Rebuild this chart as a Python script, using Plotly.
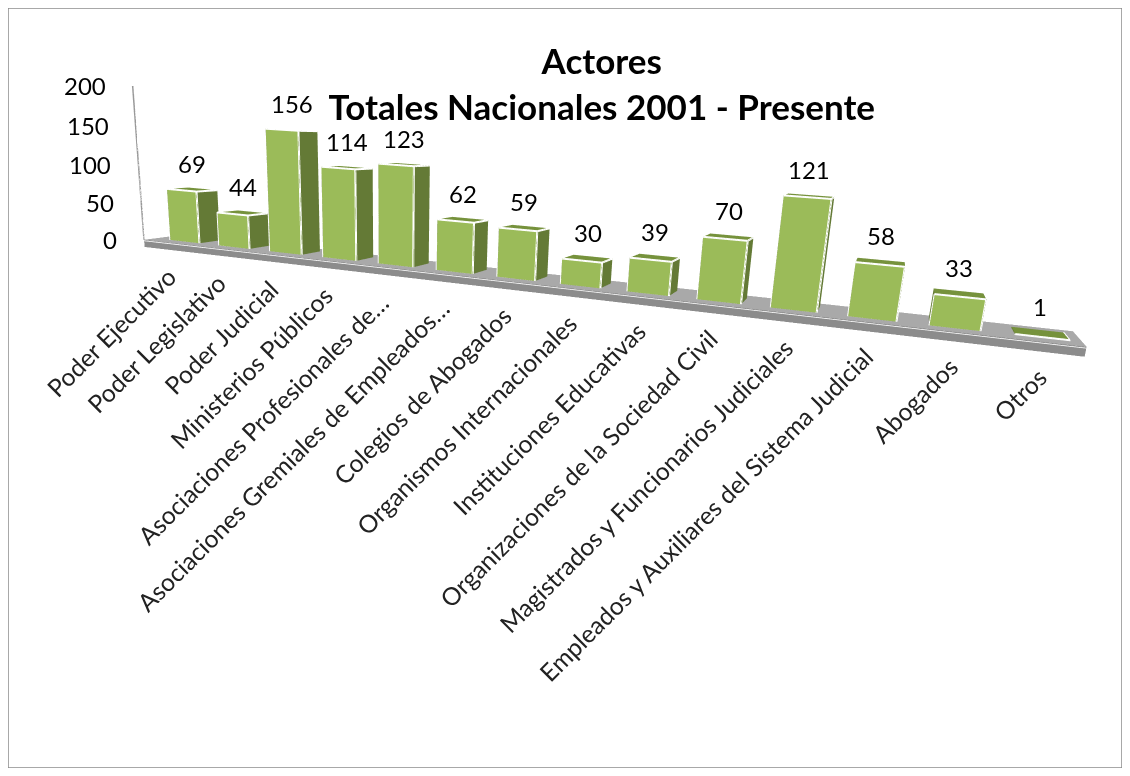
import math
import plotly.graph_objects as go

categories = ["Poder Ejecutivo", "Poder Legislativo", "Poder Judicial", "Ministerios Públicos",
              "Asociaciones Profesionales de…", "Asociaciones Gremiales de Empleados…",
              "Colegios de Abogados", "Organismos Internacionales", "Instituciones Educativas",
              "Organizaciones de la Sociedad Civil", "Magistrados y Funcionarios Judiciales",
              "Empleados y Auxiliares del Sistema Judicial", "Abogados", "Otros"]
values = [69, 44, 156, 114, 123, 62, 59, 30, 39, 70, 121, 58, 33, 1]
z_ticks = [0, 50, 100, 150, 200]

FONT = "Lato"
FRONT, SIDE, TOP = "#9BBB59", "#647A36", "#76923C"
BW, BD = 0.30, 0.25
Y0, Y1 = 0.0, 1.0

vx, vy, vz, fi, fj, fk, fc = [], [], [], [], [], [], []
lx, ly, lz = [], [], []

def box(x0, x1, y0, y1, z0, z1, cols):
    b = len(vx)
    for z in (z0, z1):
        for x, y in ((x0, y0), (x1, y0), (x1, y1), (x0, y1)):
            vx.append(x); vy.append(y); vz.append(z)
    quads = [((0, 1, 5, 4), cols[0]), ((1, 2, 6, 5), cols[1]), ((4, 5, 6, 7), cols[2]),
             ((3, 0, 4, 7), cols[1]), ((2, 3, 7, 6), cols[1]), ((0, 3, 2, 1), cols[1])]
    for q, c in quads:
        for t in ((q[0], q[1], q[2]), (q[0], q[2], q[3])):
            fi.append(b + t[0]); fj.append(b + t[1]); fk.append(b + t[2]); fc.append(c)

yc = 0.5
for i, v in enumerate(values):
    x0, x1 = i - BW, i + BW
    y0, y1 = yc - BD, yc + BD
    box(x0, x1, y0, y1, 0, v, (FRONT, SIDE, TOP))
    for px, py, pz in ((x0, y0, 0), (x1, y0, 0), (x1, y0, v), (x0, y0, v), (x0, y0, 0)):
        lx.append(px); ly.append(py); lz.append(pz)
    lx.append(None); ly.append(None); lz.append(None)
    for px, py, pz in ((x1, y0, v), (x1, y1, v)):
        lx.append(px); ly.append(py); lz.append(pz)
    lx.append(None); ly.append(None); lz.append(None)

XMIN, XMAX = -0.62, 13.45
ZR = 200
flat = dict(ambient=1, diffuse=0, specular=0, fresnel=0)
floor = go.Mesh3d(x=[XMIN, XMAX, XMAX, XMIN], y=[Y0, Y0, Y1, Y1], z=[0, 0, 0, 0], i=[0, 0], j=[1, 2], k=[2, 3],
                  color="#A9A9A9", flatshading=True, hoverinfo="skip", lighting=flat)
rim = go.Mesh3d(x=[XMIN, XMAX, XMAX, XMIN], y=[Y0, Y0, Y0, Y0], z=[0, 0, -10, -10], i=[0, 0], j=[1, 2], k=[2, 3],
                color="#8C8C8C", flatshading=True, hoverinfo="skip", lighting=flat)
bars = go.Mesh3d(x=vx, y=vy, z=vz, i=fi, j=fj, k=fk, facecolor=fc, flatshading=True, hoverinfo="skip", lighting=flat)
edges = go.Scatter3d(x=lx, y=ly, z=lz, mode="lines", line=dict(color="white", width=4), hoverinfo="skip")
white_edge = go.Scatter3d(x=[XMIN, XMAX], y=[Y0, Y0], z=[-1, -1], mode="lines",
                          line=dict(color="white", width=3), hoverinfo="skip")
axis = go.Scatter3d(x=[XMIN, XMIN], y=[Y0, Y0], z=[ZR, 0], mode="lines",
                    line=dict(color="#999999", width=3), hoverinfo="skip")

anns = []
for z in z_ticks:
    anns.append(dict(x=XMIN, y=Y0, z=z, text=str(z), showarrow=False, xanchor="right", yanchor="middle",
                     xshift=-25, font=dict(family=FONT, size=24, color="black")))
for i, v in enumerate(values):
    anns.append(dict(x=i, y=yc, z=v, text=str(v), showarrow=False, xanchor="center", yanchor="bottom",
                     yshift=10, font=dict(family=FONT, size=24, color="black")))
for i, c in enumerate(categories):
    anns.append(dict(x=i, y=Y0, z=0, text=c, showarrow=False, xanchor="right", yanchor="top", textangle=-45,
                     yshift=-17, xshift=10, font=dict(family=FONT, size=24.6, color="#222222")))

AZ, EL, D, ROLL = math.radians(19), math.radians(16), 1.95, math.radians(-3)
C = dict(x=0.049, y=0, z=-0.39)
eye = dict(x=C["x"] + D * math.sin(AZ) * math.cos(EL),
           y=C["y"] - D * math.cos(AZ) * math.cos(EL),
           z=C["z"] + D * math.sin(EL))
up = dict(x=math.sin(ROLL) * math.cos(AZ), y=math.sin(ROLL) * math.sin(AZ), z=math.cos(ROLL))
hidden = dict(visible=False, showgrid=False, zeroline=False, showticklabels=False, title="")
fig = go.Figure([floor, rim, white_edge, axis, bars, edges])
fig.update_layout(
    width=1114, height=760, margin=dict(l=0, r=0, t=0, b=0), showlegend=False,
    paper_bgcolor="white",
    title=dict(text="<b>Actores<br>Totales Nacionales 2001 - Presente</b>", x=0.533, xanchor="center",
               y=0.913, yanchor="middle", font=dict(family=FONT, size=35, color="black")),
    scene=dict(domain=dict(x=[0, 1], y=[0, 1]), dragmode="orbit",
               xaxis=dict(hidden, range=[XMIN, XMAX]), yaxis=dict(hidden, range=[0, 1]),
               zaxis=dict(hidden, range=[-10, ZR]),
               aspectmode="manual", aspectratio=dict(x=1.976, y=0.14, z=0.36),
               camera=dict(eye=eye, center=C, up=up),
               annotations=anns),
    shapes=[dict(type="rect", xref="paper", yref="paper", x0=0, x1=1, y0=0, y1=1,
                 line=dict(color="#8C8C8C", width=1.5))],
)
fig.write_html("out.html", config=dict(displayModeBar=False))
